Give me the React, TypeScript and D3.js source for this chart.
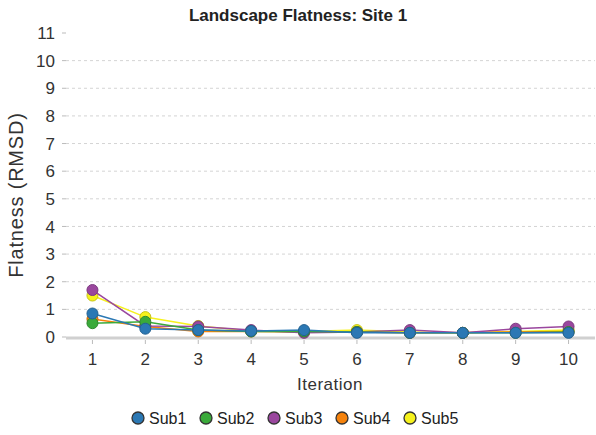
import React from 'react';
import * as d3 from 'd3';

const iterations = ['1', '2', '3', '4', '5', '6', '7', '8', '9', '10'];
const yTicks = [0, 1, 2, 3, 4, 5, 6, 7, 8, 9, 10, 11];

const seriesNames = ['Sub1', 'Sub2', 'Sub3', 'Sub4', 'Sub5'];
const seriesColors = ['#2b78b4', '#3aaa3a', '#9a479e', '#f5820c', '#f6f21c'];

const sub1 = [0.85, 0.3, 0.25, 0.22, 0.25, 0.15, 0.15, 0.15, 0.15, 0.15];
const sub2 = [0.5, 0.55, 0.25, 0.2, 0.2, 0.18, 0.15, 0.15, 0.15, 0.18];
const sub3 = [1.7, 0.4, 0.38, 0.25, 0.15, 0.18, 0.25, 0.15, 0.3, 0.38];
const sub4 = [0.65, 0.38, 0.2, 0.2, 0.18, 0.18, 0.15, 0.15, 0.18, 0.2];
const sub5 = [1.5, 0.72, 0.4, 0.22, 0.2, 0.25, 0.18, 0.15, 0.2, 0.25];
const seriesValues = [sub1, sub2, sub3, sub4, sub5];

const W = 596;
const H = 435;
const plot = { left: 66, right: 595, top: 33, bottom: 337 };
const font = '"Liberation Sans", Arial, sans-serif';

export default function App() {
  const x = d3.scalePoint<string>()
    .domain(iterations)
    .range([plot.left, plot.right])
    .padding(0.5);

  const y = d3.scaleLinear()
    .domain([0, 11])
    .range([plot.bottom, plot.top]);

  const line = d3.line<number>()
    .x((_, i) => x(iterations[i]) as number)
    .y(d => y(d));

  // Sub1 drawn last so its markers sit on top
  const order = [4, 3, 2, 1, 0];
  const legendX = d3.scalePoint<string>()
    .domain(seriesNames)
    .range([138, 410]);

  return (
    <svg width={W} height={H} style={{ position: 'absolute', left: 0, top: 0 }}>
      <rect width={W} height={H} fill="#fff" />
      <text x={W / 2} y={21} textAnchor="middle" fontFamily={font} fontWeight="bold" fontSize={17} fill="#222">
        Landscape Flatness: Site 1
      </text>

      {/* grid */}
      {yTicks.map(t => (
        <g key={t}>
          {t > 0 && t < 11 && (
            <line x1={plot.left} x2={plot.right} y1={y(t)} y2={y(t)}
              stroke="#d4d4d4" strokeWidth={1} strokeDasharray="3,3" />
          )}
          <line x1={plot.left - 4} x2={plot.left} y1={y(t)} y2={y(t)} stroke="#bbb" />
          <text x={55} y={y(t)} dy="0.36em" textAnchor="end" fontFamily={font} fontSize={17} fill="#333">
            {t}
          </text>
        </g>
      ))}

      <line x1={plot.left} x2={plot.right} y1={plot.bottom + 1} y2={plot.bottom + 1} stroke="#d0d0d0" strokeWidth={3} />

      {iterations.map(it => (
        <g key={it}>
          <line x1={x(it)} x2={x(it)} y1={plot.bottom + 3} y2={plot.bottom + 7} stroke="#bbb" />
          <text x={x(it)} y={365} textAnchor="middle" fontFamily={font} fontSize={17} fill="#333">
            {it}
          </text>
        </g>
      ))}

      <text x={W / 2 + 32} y={390} textAnchor="middle" fontFamily={font} fontSize={17} letterSpacing={0.5} fill="#333">Iteration</text>
      <text transform={`translate(23,195) rotate(-90)`} textAnchor="middle"
        fontFamily={font} fontSize={20} letterSpacing={0.8} fill="#333">Flatness (RMSD)</text>

      {/* series */}
      {order.map(si => (
        <g key={seriesNames[si]}>
          <path d={line(seriesValues[si]) || ''} fill="none" stroke={seriesColors[si]} strokeWidth={1.5} />
          {seriesValues[si].map((v, i) => (
            <circle key={i} cx={x(iterations[i])} cy={y(v)} r={5.5} fill={seriesColors[si]}
              stroke={d3.color(seriesColors[si])!.darker(0.6).toString()} strokeWidth={1} />
          ))}
        </g>
      ))}

      {/* legend */}
      {seriesNames.map((n, i) => (
        <g key={n}>
          <circle cx={legendX(n)} cy={418} r={6} fill={seriesColors[i]} stroke="#333" strokeWidth={1.3} />
          <text x={(legendX(n) as number) + 11} y={418} dy="0.36em" fontFamily={font} fontSize={16} fill="#222">{n}</text>
        </g>
      ))}
    </svg>
  );
}
